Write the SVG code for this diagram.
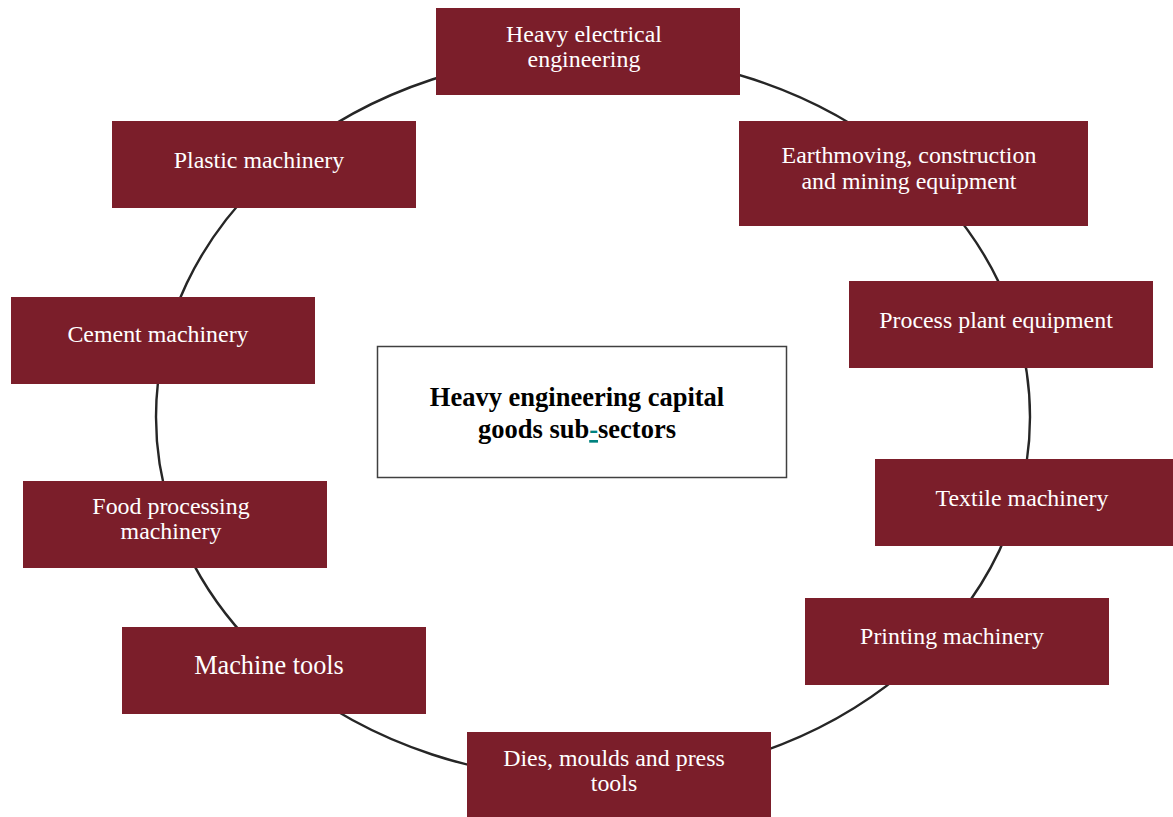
<svg xmlns="http://www.w3.org/2000/svg" width="1173" height="817" viewBox="0 0 1173 817">
<style>
.box{fill:#7B1E2A;}
.lbl{font-family:"Liberation Serif","Times New Roman",serif;font-size:23.9px;fill:#ffffff;text-anchor:middle;}
.big{font-size:26.3px;}
.ttl{font-family:"Liberation Serif","Times New Roman",serif;font-size:26.5px;font-weight:bold;fill:#000;text-anchor:middle;}
.ring{fill:none;stroke:#262626;stroke-width:2.4;}
</style>
<rect width="1173" height="817" fill="#ffffff"/>
<g id="connectors">
<ellipse class="ring" cx="593" cy="417" rx="437" ry="363"/>
</g>
<g id="center">
<rect x="377.5" y="346.5" width="409" height="131" fill="#ffffff" stroke="#404040" stroke-width="1.5"/>
<text class="ttl" x="577" y="406">Heavy engineering capital</text>
<text class="ttl" x="577" y="438">goods sub<tspan fill="#00827F" text-decoration="underline">-</tspan>sectors</text>
</g>
<g id="heavy-electrical">
<rect class="box" x="436" y="8" width="304" height="87"/>
<text class="lbl" x="584" y="42">Heavy electrical</text>
<text class="lbl" x="584" y="67">engineering</text>
</g>
<g id="plastic">
<rect class="box" x="112" y="121" width="304" height="87"/>
<text class="lbl" x="259" y="168">Plastic machinery</text>
</g>
<g id="earthmoving">
<rect class="box" x="739" y="121" width="349" height="105"/>
<text class="lbl" x="909" y="163">Earthmoving, construction</text>
<text class="lbl" x="909" y="189">and mining equipment</text>
</g>
<g id="process">
<rect class="box" x="849" y="281" width="304" height="87"/>
<text class="lbl" x="996" y="328">Process plant equipment</text>
</g>
<g id="cement">
<rect class="box" x="11" y="297" width="304" height="87"/>
<text class="lbl" x="158" y="342">Cement machinery</text>
</g>
<g id="textile">
<rect class="box" x="875" y="459" width="298" height="87"/>
<text class="lbl" x="1022" y="506">Textile machinery</text>
</g>
<g id="food">
<rect class="box" x="23" y="481" width="304" height="87"/>
<text class="lbl" x="171" y="514">Food processing</text>
<text class="lbl" x="171" y="539">machinery</text>
</g>
<g id="printing">
<rect class="box" x="805" y="598" width="304" height="87"/>
<text class="lbl" x="952" y="644">Printing machinery</text>
</g>
<g id="machine-tools">
<rect class="box" x="122" y="627" width="304" height="87"/>
<text class="lbl big" x="269" y="674">Machine tools</text>
</g>
<g id="dies">
<rect class="box" x="467" y="732" width="304" height="85"/>
<text class="lbl" x="614" y="766">Dies, moulds and press</text>
<text class="lbl" x="614" y="791">tools</text>
</g>
</svg>
